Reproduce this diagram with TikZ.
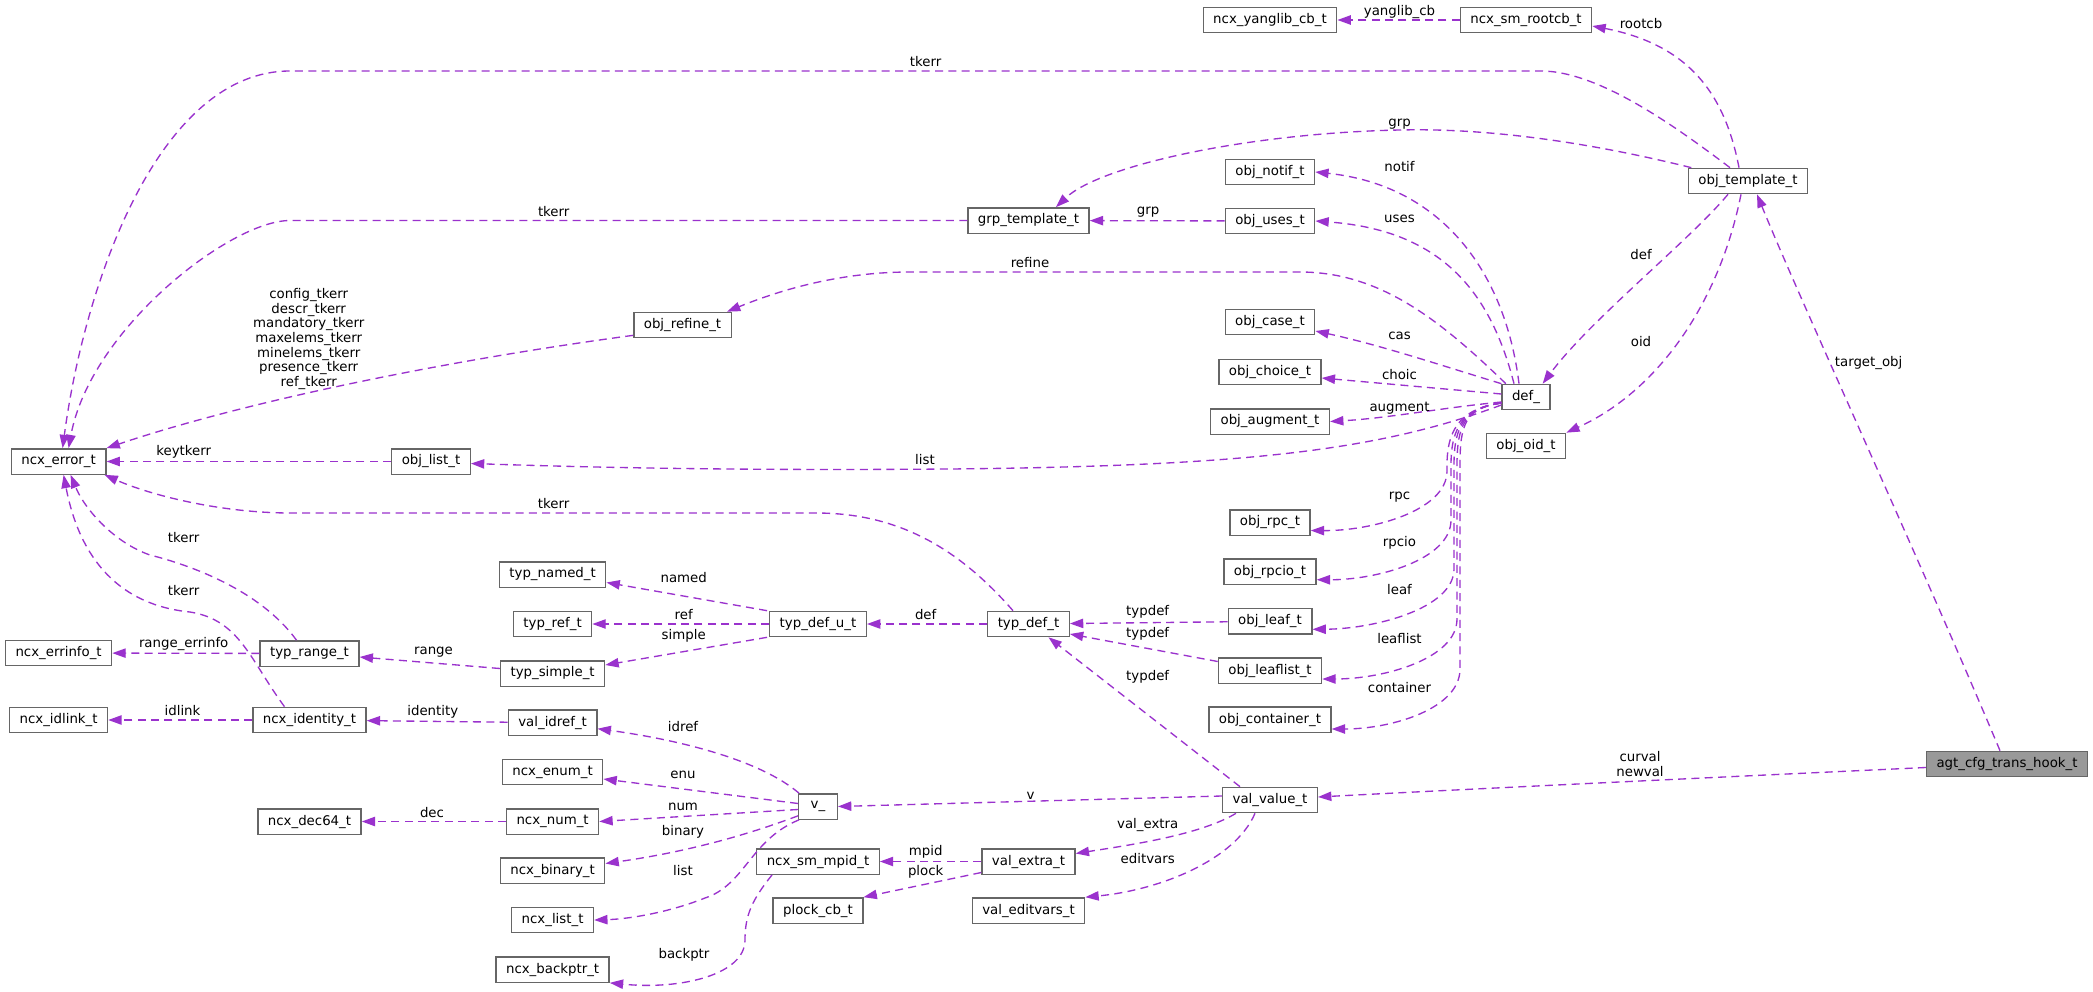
\documentclass[tikz,border=0pt]{standalone}
\usepackage{fontspec}
\setmainfont{DejaVu Sans}
\usetikzlibrary{arrows.meta,calc}
\definecolor{edgeorchid}{HTML}{9A32CD}
\definecolor{boxline}{HTML}{666666}
\definecolor{rootfill}{HTML}{999999}
\tikzset{
  tbox/.style={draw=boxline,fill=white,line width=1pt,minimum height=19pt,
               minimum width=29pt,inner xsep=7.5pt,inner ysep=0pt,
               font=\fontsize{10}{11}\selectfont},
  rootbox/.style={tbox,fill=rootfill},
  usearr/.style={-{Triangle[length=10pt,width=7pt]},draw=edgeorchid,
                 line width=1pt,dash pattern=on 6pt off 4pt},
  elabel/.style={inner sep=0pt,align=center,font=\fontsize{10}{11}\selectfont}
}

\begin{document}
\begin{tikzpicture}[x=0.75pt,y=-0.75pt]
  \fill[white] (0,0) rectangle (2093,992);
  \useasboundingbox (0,0) rectangle (2093,992);
  % boxes
  \foreach \nm/\px/\py/\txt in {
    ncxyanglib/1270/20/ncx\_yanglib\_cb\_t, ncxsmrootcb/1526/20/ncx\_sm\_rootcb\_t,
    objtemplate/1748/181/obj\_template\_t, grptemplate/1028.5/220.5/grp\_template\_t,
    objnotif/1270/172/obj\_notif\_t, objuses/1270/221/obj\_uses\_t,
    objrefine/682.5/325/obj\_refine\_t, objcase/1270/322/obj\_case\_t,
    objchoice/1270/372/obj\_choice\_t, objaugment/1270/421.5/obj\_augment\_t,
    def/1526/397/def\_, objoid/1526/446/obj\_oid\_t,
    ncxerror/58.6/461.5/ncx\_error\_t, objlist/431/461.5/obj\_list\_t,
    objrpc/1270/522.5/obj\_rpc\_t, objrpcio/1270/571.7/obj\_rpcio\_t,
    typnamed/552.6/574.5/typ\_named\_t, typref/552.6/624/typ\_ref\_t,
    typdefu/818/624/typ\_def\_u\_t, typdef/1028.5/624/typ\_def\_t,
    objleaf/1270/621.3/obj\_leaf\_t, ncxerrinfo/58.6/653/ncx\_errinfo\_t,
    typrange/309.5/653.5/typ\_range\_t, typsimple/552.6/673.5/typ\_simple\_t,
    objleaflist/1270/670.5/obj\_leaflist\_t, ncxidlink/58.6/720/ncx\_idlink\_t,
    ncxidentity/309.5/720/ncx\_identity\_t, validref/552.6/722.7/val\_idref\_t,
    objcontainer/1270/719.5/obj\_container\_t, ncxenum/552.6/772/ncx\_enum\_t,
    v/818/806.5/v\_, valvalue/1270/800/val\_value\_t,
    ncxdec64/309.5/821.5/ncx\_dec64\_t, ncxnum/552.6/821.5/ncx\_num\_t,
    ncxbinary/552.6/870.5/ncx\_binary\_t, ncxsmmpid/818/861.5/ncx\_sm\_mpid\_t,
    valextra/1028.5/861.5/val\_extra\_t, plockcb/818/910.5/plock\_cb\_t,
    valeditvars/1028.5/910.5/val\_editvars\_t, ncxlist/552.6/920/ncx\_list\_t,
    ncxbackptr/552.6/969.5/ncx\_backptr\_t}
    \node[tbox] (\nm) at (\px,\py) {\txt};
  \node[rootbox] (agthook) at (2007,764) {agt\_cfg\_trans\_hook\_t};

  % straight links
  \foreach \src/\tgt in {ncxsmrootcb/ncxyanglib, objuses/grptemplate,
      objlist/ncxerror, typrange/ncxerrinfo, ncxidentity/ncxidlink,
      validref/ncxidentity, typdefu/typref, typdef/typdefu, objleaf/typdef,
      valextra/ncxsmmpid, ncxnum/ncxdec64}
    \draw[usearr] (\src) -- (\tgt);

  % obj_template_t
  \draw[usearr] ($(objtemplate.north)+(-9,0)$) .. controls (1725,95) and (1690,45) .. ($(ncxsmrootcb.east)+(0,6)$);
  \draw[usearr] ($(objtemplate.north)+(-18,0)$) .. controls (1680,130) and (1600,71) .. (1541,71)
    -- (290,71) .. controls (160,71) and (85,280) .. ($(ncxerror.north)+(4,0)$);
  \draw[usearr] ($(objtemplate.north west)+(3.5,0)$) .. controls (1580,140) and (1480,128) .. (1400,130)
    .. controls (1250,133) and (1100,165) .. ($(grptemplate.north)+(27.5,0)$);
  \draw[usearr] ($(objtemplate.south)+(-20,0)$) .. controls (1690,240) and (1590,320) .. ($(def.north east)+(-8,0)$);
  \draw[usearr] ($(objtemplate.south)+(-7,0)$) .. controls (1720,300) and (1660,390) .. (objoid.north east);
  \draw[usearr] (grptemplate.west) -- (290,220.5) .. controls (230,220.5) and (90,330) .. ($(ncxerror.north)+(10,0)$);

  % def_
  \draw[usearr] ($(def.north west)+(4.5,0)$) .. controls (1440,320) and (1380,272) .. (1300,272)
    -- (910,272) .. controls (840,272) and (780,290) .. ($(objrefine.north)+(44.5,0)$);
  \draw[usearr] ($(def.west)+(0,8)$) .. controls (1380,450) and (1250,466) .. (950,469)
    .. controls (700,471) and (550,466) .. ($(objlist.east)+(0,2)$);
  \draw[usearr] ($(def.north)+(-7,0)$) .. controls (1505,270) and (1440,185) .. (objnotif.east);
  \draw[usearr] ($(def.north)+(-12,0)$) .. controls (1490,290) and (1440,230) .. (objuses.east);
  \draw[usearr] (def.north west) .. controls (1440,365) and (1380,345) .. ($(objcase.east)+(0,9)$);
  \draw[usearr] ($(def.west)+(0,-3)$) -- ($(objchoice.east)+(0,6)$);
  \draw[usearr] ($(def.west)+(0,5)$) .. controls (1440,408) and (1390,418) .. (objaugment.east);
  \foreach \tgt/\xv/\yt/\xt/\dy in {objrpc/1447/531/1311/8, objrpcio/1451/580/1316/8,
      objleaf/1454/629/1313/8, objleaflist/1457/679/1323/8.5, objcontainer/1460/729/1331/9.5}
    \draw[usearr] ($(def.west)+(0,6)$) .. controls (1465,408) and (\xv,425) .. (\xv,465)
      -- (\xv,\yt-60) .. controls (\xv,\yt-20) and (\xt+60,\yt) .. ($(\tgt.east)+(0,\dy)$);

  % ncx_error_t
  \draw[usearr] ($(objrefine.south west)+(0,-3)$) .. controls (450,360) and (250,400) .. (ncxerror.north east);
  \draw[usearr] ($(typdef.north)+(-15.5,0)$) .. controls (960,550) and (900,513) .. (816,513)
    -- (291,513) .. controls (220,513) and (150,495) .. ($(ncxerror.south east)+(-2,0)$);
  \draw[usearr] ($(typrange.north)+(-13,0)$) .. controls (260,590) and (190,565) .. (150,555)
    .. controls (115,543) and (85,510) .. ($(ncxerror.south)+(12,0)$);
  \draw[usearr] ($(ncxidentity.north)+(-25,0)$) .. controls (250,660) and (240,620) .. (190,612)
    .. controls (120,605) and (80,560) .. ($(ncxerror.south)+(5,0)$);

  % typ_*
  \draw[usearr] ($(typsimple.west)+(0,-5)$) -- ($(typrange.east)+(0,3.5)$);
  \draw[usearr] ($(typdefu.north west)+(-2,0)$) -- ($(typnamed.east)+(0,8)$);
  \draw[usearr] ($(typdefu.south west)+(-2,0)$) -- ($(typsimple.east)+(0,-8.5)$);
  \draw[usearr] ($(objleaflist.west)+(0,-9)$) -- ($(typdef.east)+(0,10)$);
  \draw[usearr] ($(valvalue.north)+(-30,0)$) -- ($(typdef.south)+(20,0)$);

  % val_value_t and agt_cfg_trans_hook_t
  \draw[usearr] ($(agthook.north)+(-7,0)$) .. controls (1920,560) and (1800,300) .. ($(objtemplate.south)+(9,0)$);
  \draw[usearr] ($(agthook.west)+(0,3.5)$) .. controls (1700,778) and (1450,790) .. ($(valvalue.east)+(0,-3)$);
  \draw[usearr] ($(valvalue.west)+(0,-4)$) -- (v.east);
  \draw[usearr] ($(valvalue.south west)+(14,0)$) .. controls (1200,835) and (1130,845) .. ($(valextra.east)+(0,-8)$);
  \draw[usearr] ($(valvalue.south)+(-15,0)$) .. controls (1235,860) and (1160,890) .. (valeditvars.north east);
  \draw[usearr] ($(valextra.west)+(0,11)$) -- (plockcb.north east);

  % v_
  \draw[usearr] ($(v.north west)+(1,0)$) .. controls (760,760) and (680,740) .. ($(validref.east)+(0,6)$);
  \draw[usearr] ($(v.west)+(0,-3)$) -- ($(ncxenum.east)+(0,7)$);
  \draw[usearr] ($(v.west)+(0,3)$) -- (ncxnum.east);
  \draw[usearr] ($(v.south west)+(0,-4)$) .. controls (760,830) and (700,850) .. ($(ncxbinary.east)+(0,-7)$);
  \draw[usearr] ($(v.south west)+(1,0)$) .. controls (750,840) and (745,885) .. (705,898)
    .. controls (670,912) and (630,919) .. (ncxlist.east);
  \draw[usearr] ($(ncxsmmpid.south west)+(16,0)$) .. controls (752,900) and (745,915) .. (745,940)
    .. controls (745,975) and (680,990) .. (ncxbackptr.south east);

  % labels
  \foreach \nm/\px/\py/\txt in {
    yanglib/1399.5/12/yanglib\_cb, rootcb/1641/24/rootcb, tkerrA/925.6/62/tkerr,
    grpA/1399.5/124/grp, grpB/1148/212/grp, tkerrB/553.7/212/tkerr,
    refine/1030/263/refine, keytkerr/183.7/452/keytkerr, listA/925/460/list,
    tkerrC/553.6/504/tkerr, tkerrD/183.7/538/tkerr, tkerrE/183.7/591/tkerr,
    rangeerr/183.7/644/range\_errinfo, range/433.5/652/range, idlink/182.5/711/idlink,
    identity/432.8/712/identity, named/683.7/578/named, ref/683.7/615/ref,
    simple/683.7/636/simple, defA/925.7/615/def, typdefA/1147.7/612/typdef,
    typdefB/1147.7/634/typdef, typdefC/1147.7/677/typdef, notif/1399.5/167/notif,
    uses/1399.5/219/uses, cas/1399.5/336/cas, choic/1399.5/375/choic,
    augment/1399.5/408/augment, rpc/1399.5/497/rpc, rpcio/1399.5/543/rpcio,
    leaf/1399.5/590/leaf, leaflist/1399.5/639/leaflist, container/1399.5/688/container,
    defB/1641/255/def, oid/1641/342/oid, target/1868.6/363/target\_obj,
    v/1030.5/796/v, valextra/1147.7/825/val\_extra, editvars/1147.7/859/editvars,
    mpid/925.7/852/mpid, plock/925.7/872/plock, idref/683/727/idref,
    enu/683/775/enu, num/683/807/num, dec/432/813/dec, binary/683/832/binary,
    listB/683/871/list, backptr/684/955/backptr}
    \node[elabel] (l\nm) at (\px,\py) {\txt};
  \node[elabel] (ltkerrset) at (308.7,339) {config\_tkerr\\descr\_tkerr\\mandatory\_tkerr\\maxelems\_tkerr\\minelems\_tkerr\\presence\_tkerr\\ref\_tkerr};
  \node[elabel] (lcurval) at (1640,764) {curval\\newval};
\end{tikzpicture}
\end{document}
